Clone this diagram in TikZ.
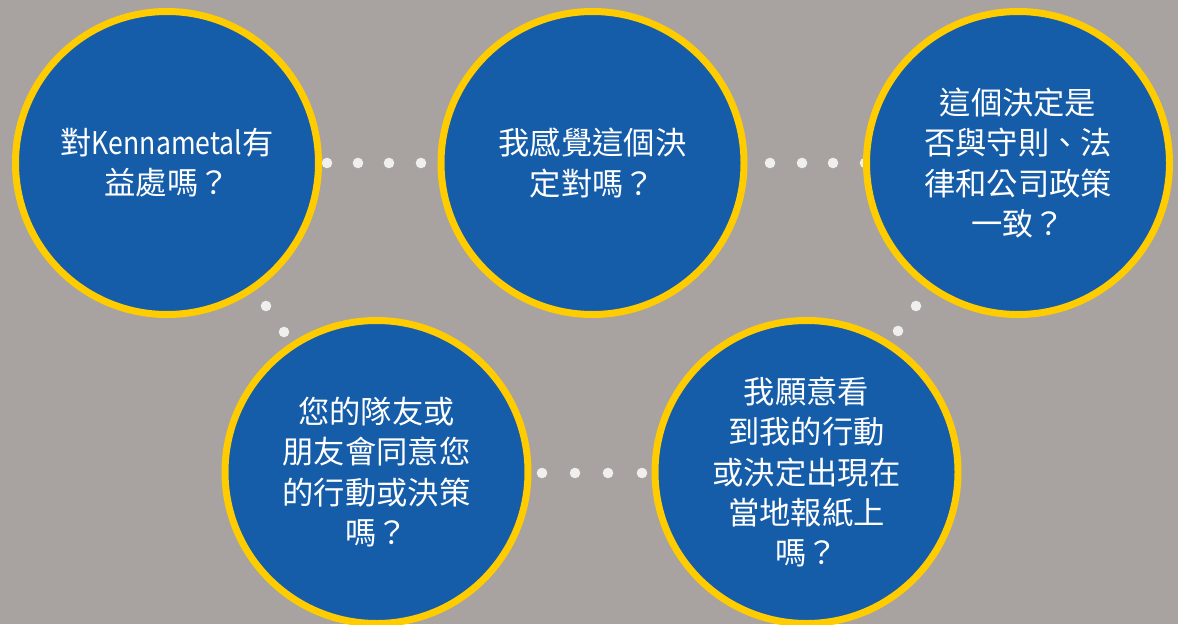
\documentclass[tikz,border=0pt]{standalone}
\usepackage{fontspec}
\setmainfont{Noto Sans CJK TC}
\newfontfamily\cjk{Noto Sans CJK TC}[Scale=1.0]
\definecolor{bg}{HTML}{A8A3A0}
\definecolor{ballblue}{HTML}{155CA9}
\definecolor{ringyellow}{HTML}{FFCC00}
\definecolor{dotwhite}{HTML}{F0EFED}
\begin{document}
\begin{tikzpicture}[x=1pt,y=-1pt,
  ball/.style={circle, fill=ballblue, draw=ringyellow, line width=7pt,
    minimum size=303pt, inner sep=0pt, align=center, text=white,
    font=\cjk\fontsize{31.3}{40.2}\selectfont},
  dotmark/.style={fill=dotwhite, draw=none}]
\fill[bg] (0,0) rectangle (1178,624);
\useasboundingbox (0,0) rectangle (1178,624);
% dots (behind circles)
\foreach \x in {327,358,389,421} \fill[dotmark] (\x,163) circle (5.3);
\foreach \x in {770,802,833,865} \fill[dotmark] (\x,163) circle (5.3);
\foreach \x in {542,575,608,642} \fill[dotmark] (\x,473) circle (5.3);
\fill[dotmark] (266,306) circle (5.3);
\fill[dotmark] (284,332) circle (5.3);
\fill[dotmark] (916,306) circle (5.3);
\fill[dotmark] (898,331) circle (5.3);
% circles
\node[ball] (c1) at (167,163) {對{\addfontfeatures{FakeStretch=0.85}Kennametal}有\\益處嗎？};
\node[ball] (c2) at (592.5,163) {我感覺這個決\\定對嗎？};
\node[ball] (c3) at (1018,163) {這個決定是\\否與守則、法\\律和公司政策\\一致？};
\node[ball] (c4) at (376.5,472) {您的隊友或\\朋友會同意您\\的行動或決策\\嗎？};
\node[ball] (c5) at (806.5,472) {我願意看\\到我的行動\\或決定出現在\\當地報紙上\\嗎？};
\end{tikzpicture}
\end{document}
